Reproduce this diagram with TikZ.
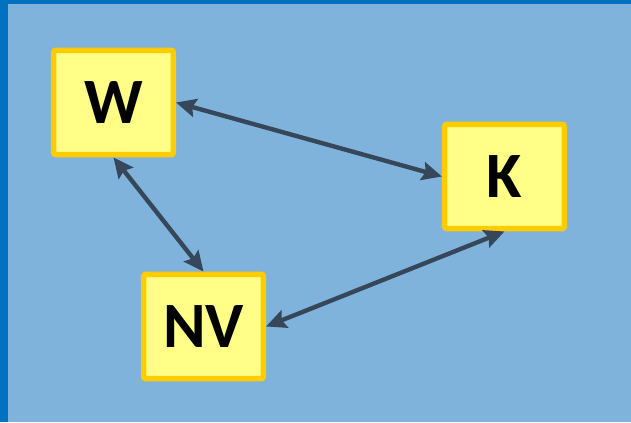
\documentclass[tikz,border=0pt]{standalone}
\usepackage{fontspec}
\setmainfont{Carlito}
\usepackage{tikz}
\usetikzlibrary{arrows.meta, positioning}
\usepackage{xcolor}
\definecolor{frameblue}{HTML}{0070C0}
\definecolor{skyblue}{HTML}{7FB3DC}
\definecolor{boxfill}{HTML}{FFFF88}
\definecolor{boxline}{HTML}{FFCC00}
\definecolor{linkgray}{HTML}{37475A}

\begin{document}
\begin{tikzpicture}[
		box/.style={draw=boxline, fill=boxfill, line width=0.1375cm, rounded corners=1.5pt,
			minimum width=2.99cm, minimum height=2.61cm, inner sep=0pt,
			font=\fontsize{46}{55}\selectfont\bfseries},
		link/.style={draw=linkgray, line width=0.11cm,
			>={Stealth[length=0.5cm, width=0.46cm, inset=0.08cm]}, <->}
	]
					% backdrop with the darker strip on the left and top
					\fill[frameblue] (0, 0) rectangle (15.775, -10.55);
					\fill[skyblue] (0.2, -0.1) rectangle (15.775, -10.55);
					\useasboundingbox (0, 0) rectangle (15.775, -10.55);
					
					\node[box] at (2.8375, -2.5625) (w) {W};
					\node[box] at (12.6125, -4.4125) (k) {K};
					\node[box] at (5.0875, -8.1625) (nv) {NV};
					
					\draw[link] (w.east) -- (k.west);
					\draw[link] (w.south) -- (nv.north);
					\draw[link] (nv.east) -- (k.south);
				\end{tikzpicture}
\end{document}
